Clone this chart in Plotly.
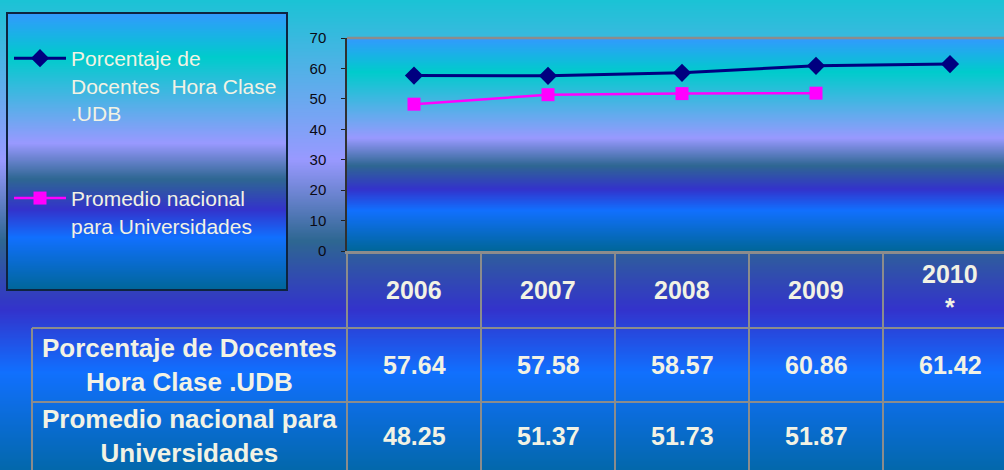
import base64
import struct
import zlib
import plotly.graph_objects as go

# ---------------- data ----------------
years = ["2006", "2007", "2008", "2009", "2010"]
year_labels = ["2006", "2007", "2008", "2009", "2010<br>*"]
series_names = ["Porcentaje de<br>Docentes  Hora Clase<br>.UDB",
                "Promedio nacional<br>para Universidades"]
row_labels = ["Porcentaje de Docentes<br>Hora Clase .UDB",
              "Promedio nacional para<br>Universidades"]
docentes_udb = [57.64, 57.58, 58.57, 60.86, 61.42]
promedio_nacional = [48.25, 51.37, 51.73, 51.87, None]
y_ticks = [0, 10, 20, 30, 40, 50, 60, 70]

# ---------------- styling helpers ----------------
W, H = 1004, 470
FONT = "Liberation Sans, Arial, sans-serif"
CREAM = "#F2F2E4"
GRID = "#8C8C8C"

# "Peacock" preset gradient
STOPS = [(0.00, (0x33, 0x99, 0xFF)), (0.16, (0x00, 0xCC, 0xCC)),
         (0.47, (0x99, 0x99, 0xFF)), (0.60, (0x2E, 0x67, 0x92)),
         (0.71, (0x33, 0x33, 0xCC)), (0.81, (0x11, 0x70, 0xFF)),
         (1.00, (0x00, 0x66, 0x99))]


def grad_color(f):
    f = min(max(f, 0.0), 1.0)
    for (f0, c0), (f1, c1) in zip(STOPS, STOPS[1:]):
        if f <= f1:
            t = (f - f0) / (f1 - f0) if f1 > f0 else 0.0
            return tuple(int(round(a + (b - a) * t)) for a, b in zip(c0, c1))
    return STOPS[-1][1]


def gradient_uri(f_start, f_end, n=400, width=2):
    rows = [grad_color(f_start + (f_end - f_start) * (i + 0.5) / n) for i in range(n)]
    raw = b"".join(b"\x00" + bytes(rgb) * width for rgb in rows)

    def chunk(tag, data):
        c = struct.pack(">I", len(data)) + tag + data
        return c + struct.pack(">I", zlib.crc32(tag + data) & 0xFFFFFFFF)

    png = (b"\x89PNG\r\n\x1a\n"
           + chunk(b"IHDR", struct.pack(">IIBBBBB", width, n, 8, 2, 0, 0, 0))
           + chunk(b"IDAT", zlib.compress(raw, 9))
           + chunk(b"IEND", b""))
    return "data:image/png;base64," + base64.b64encode(png).decode()


def px(x):
    return x / W


def py(y):
    return 1 - y / H


# layout geometry (pixels)
PLOT_L, PLOT_R, PLOT_T, PLOT_B = 347, 1004, 38, 251
COL_W = 134
X_MIN = -0.5
X_MAX = X_MIN + (PLOT_R - PLOT_L) / COL_W


def x_to_paper(v):
    return px(PLOT_L + (v - X_MIN) * COL_W)


fig = go.Figure()
xs = list(range(len(years)))
fig.add_trace(go.Scatter(
    x=xs, y=docentes_udb, name=series_names[0], legendgroup="a",
    mode="lines+markers", line=dict(color="#000080", width=3),
    marker=dict(symbol="diamond", size=14, color="#000080"),
    cliponaxis=False))
fig.add_trace(go.Scatter(
    x=xs, y=promedio_nacional, name=series_names[1], legendgroup="b",
    mode="lines+markers", line=dict(color="#FF00FF", width=2.5),
    marker=dict(symbol="square", size=13, color="#FF00FF"),
    cliponaxis=False))

images = [
    # slide background
    dict(source=gradient_uri((0 + 134) / 625, (H + 134) / 625), xref="paper", yref="paper",
         x=0, y=1, sizex=1, sizey=1, sizing="stretch", xanchor="left", yanchor="top",
         layer="below"),
    # legend box
    dict(source=gradient_uri(0, 1), xref="paper", yref="paper",
         x=px(7), y=py(13), sizex=px(280), sizey=277 / H, sizing="stretch",
         xanchor="left", yanchor="top", layer="below"),
    # plot area
    dict(source=gradient_uri(0, 1), xref="paper", yref="paper",
         x=px(PLOT_L), y=py(PLOT_T), sizex=px(PLOT_R - PLOT_L), sizey=(PLOT_B - PLOT_T) / H,
         sizing="stretch", xanchor="left", yanchor="top", layer="below"),
]

shapes = [
    # plot top border
    dict(type="line", xref="paper", yref="paper", x0=px(PLOT_L), x1=1, y0=py(PLOT_T), y1=py(PLOT_T),
         line=dict(color=GRID, width=2.5)),
    # legend border
    dict(type="rect", xref="paper", yref="paper", x0=px(7), x1=px(287), y0=py(290), y1=py(13),
         line=dict(color="#0E2440", width=2), fillcolor="rgba(0,0,0,0)"),
]
# table grid
ROW_Y = [252, 328, 402, 470]
LABEL_L = 32
for yy in ROW_Y[1:3]:
    shapes.append(dict(type="line", xref="paper", yref="paper", x0=px(LABEL_L), x1=1,
                       y0=py(yy), y1=py(yy), line=dict(color=GRID, width=2)))
shapes.append(dict(type="line", xref="paper", yref="paper", x0=px(LABEL_L), x1=px(LABEL_L),
                   y0=py(ROW_Y[1]), y1=0, line=dict(color=GRID, width=2)))
for i in range(len(years)):
    xb = x_to_paper(i - 0.5)
    shapes.append(dict(type="line", xref="paper", yref="paper", x0=xb, x1=xb,
                       y0=py(PLOT_B), y1=0, line=dict(color=GRID, width=2)))

annotations = []
bold = dict(family=FONT, size=25, color=CREAM, weight="bold")
bold_lab = dict(family=FONT, size=26, color=CREAM, weight="bold")
header_cy = (ROW_Y[0] + ROW_Y[1]) / 2
for i, lab in enumerate(year_labels):
    annotations.append(dict(xref="x", yref="paper", x=i, y=py(header_cy), text=lab,
                            showarrow=False, font=bold, xanchor="center", yanchor="middle"))
for r, vals in enumerate([docentes_udb, promedio_nacional]):
    cy = (ROW_Y[r + 1] + ROW_Y[r + 2]) / 2
    annotations.append(dict(xref="paper", yref="paper", x=px((LABEL_L + PLOT_L) / 2), y=py(cy),
                            text=row_labels[r], showarrow=False, font=bold_lab,
                            xanchor="center", yanchor="middle"))
    for i, v in enumerate(vals):
        if v is None:
            continue
        annotations.append(dict(xref="x", yref="paper", x=i, y=py(cy), text=f"{v:.2f}",
                                showarrow=False, font=bold, xanchor="center", yanchor="middle"))

fig.update_layout(
    width=W, height=H, margin=dict(l=0, r=0, t=0, b=0, pad=0, autoexpand=False),
    paper_bgcolor="#2F5FB0", plot_bgcolor="rgba(0,0,0,0)",
    font=dict(family=FONT),
    images=images, shapes=shapes, annotations=annotations,
    showlegend=True,
    legend=dict(x=px(9), y=py(38), xanchor="left", yanchor="top",
                bgcolor="rgba(0,0,0,0)", borderwidth=0, itemwidth=52,
                font=dict(family=FONT, size=21, color=CREAM),
                valign="top", traceorder="grouped", tracegroupgap=55,
                itemclick=False, itemdoubleclick=False),
    xaxis=dict(domain=[px(PLOT_L), 1], range=[X_MIN, X_MAX], showgrid=False, zeroline=False,
               showticklabels=False, tickmode="array", tickvals=[i - 0.5 for i in xs],
               ticks="outside", ticklen=5, tickwidth=2, tickcolor=GRID,
               showline=True, linecolor=GRID, linewidth=2.5, fixedrange=True,
               automargin=False),
    yaxis=dict(domain=[py(PLOT_B), py(PLOT_T)], range=[0, 70], showgrid=False, zeroline=False,
               tickmode="array", tickvals=y_ticks, ticks="outside", ticklen=4, tickwidth=1,
               tickcolor="#202020", showline=True, linecolor="#303030", linewidth=1.5,
               tickfont=dict(family=FONT, size=15, color="#0A0A14"),
               ticklabelstandoff=12, fixedrange=True, automargin=False),
    hovermode=False,
)

fig.write_html(
    "out.html",
    config={"displayModeBar": False},
    post_script="document.body.style.margin='0';document.body.style.overflow='hidden';",
)
